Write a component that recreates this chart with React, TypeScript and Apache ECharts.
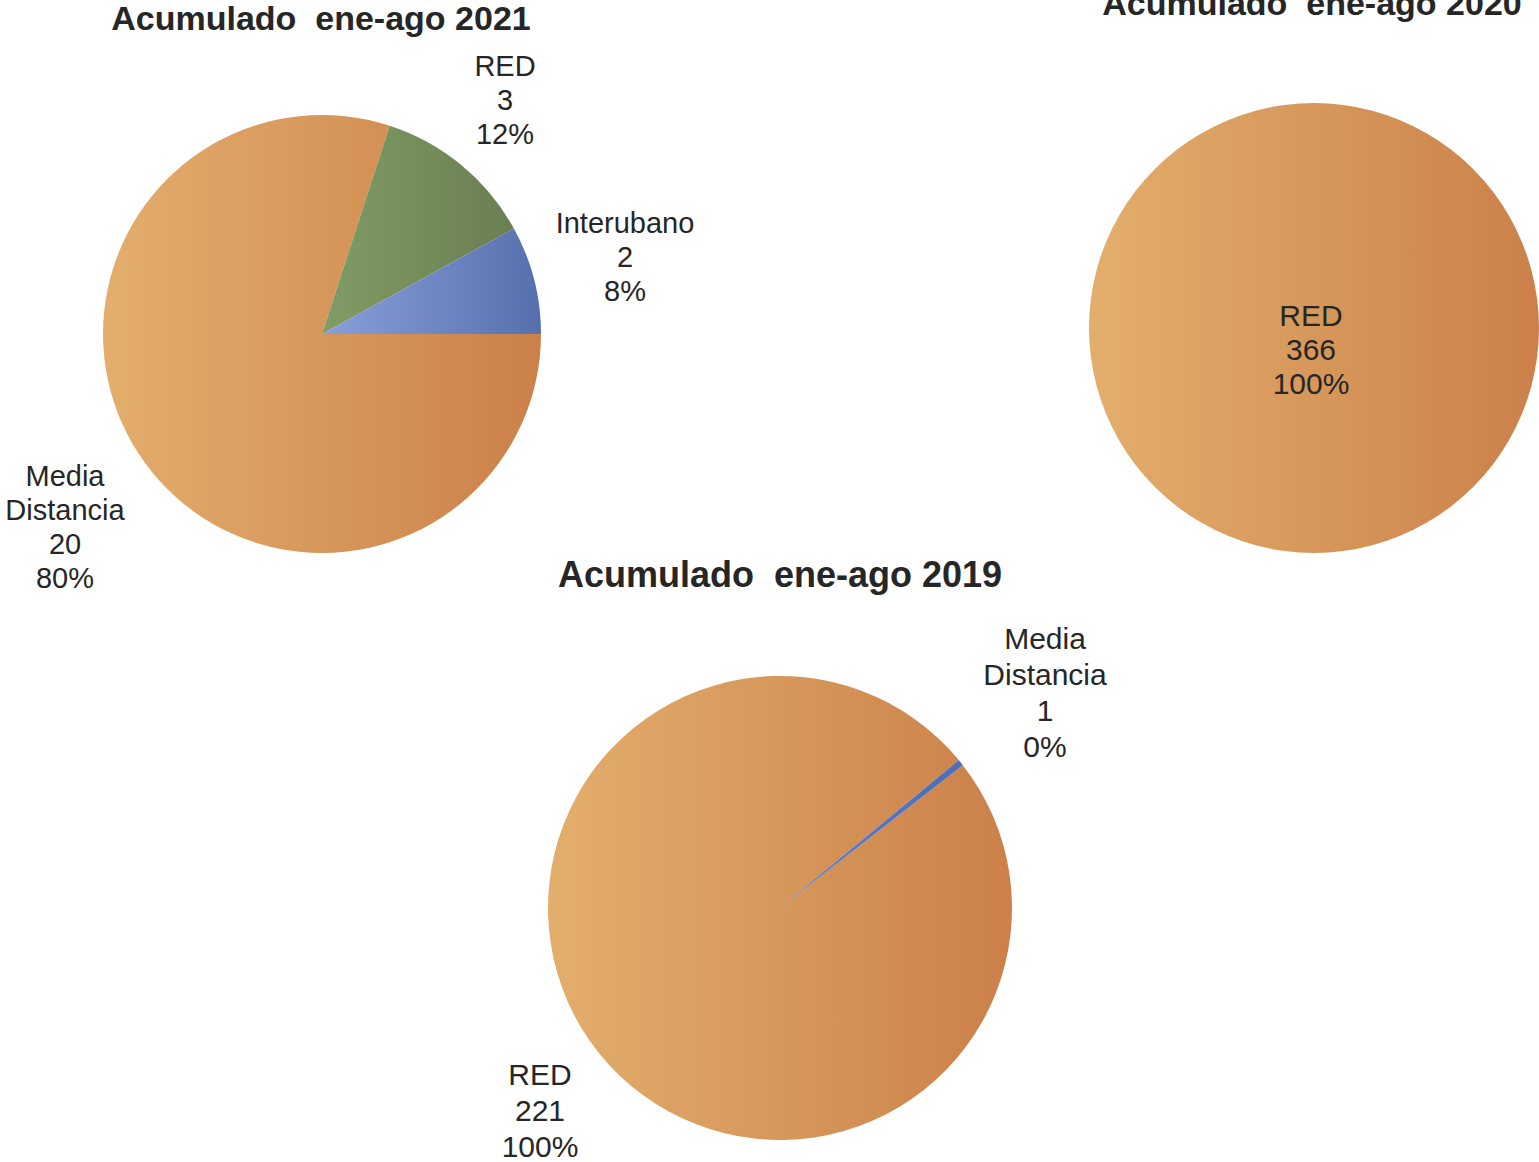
import React, { useEffect, useRef } from "react";
import * as echarts from "echarts";

const titles = ["Acumulado  ene-ago 2021", "Acumulado  ene-ago 2020", "Acumulado  ene-ago 2019"];

const names2021 = ["Media Distancia", "RED", "Interubano"];
const values2021 = [20, 3, 2];

const names2020 = ["RED"];
const values2020 = [366];

const names2019 = ["RED", "Media Distancia"];
const values2019 = [221, 1];

const FONT = "'Liberation Sans', Arial, sans-serif";
const TEXT = "#262626";

const grad = (a: string, b: string) =>
  new echarts.graphic.LinearGradient(0, 0, 1, 0, [
    { offset: 0, color: a },
    { offset: 1, color: b },
  ]);

const COLORS: Record<string, [string, string]> = {
  "Media Distancia": ["#E3AE6C", "#CB8049"],
  RED: ["#809C64", "#6A7E52"],
  Interubano: ["#8A9FDA", "#5670AE"],
};

export default function App() {
  const ref = useRef<HTMLDivElement>(null);
  useEffect(() => {
    if (!ref.current) return;
    const chart = echarts.init(ref.current, undefined, { renderer: "svg" });

    const build = (names: string[], values: number[], colorFor: (n: string) => [string, string]) =>
      names.map((n, i) => {
        const c = colorFor(n);
        return { name: n, value: values[i], itemStyle: { color: grad(c[0], c[1]) } };
      });

    const label = (fontSize: number, lineHeight: number) => ({
      show: true,
      formatter: (p: any) => `${p.name.replace(" ", "\n")}\n${p.value}\n${p.percent}%`,
      fontFamily: FONT,
      fontSize,
      lineHeight,
      color: TEXT,
      align: "center",
      overflow: "none",
      width: 300,
    });

    const pos2021: Record<string, [number, number]> = {
      "Media Distancia": [65, 527],
      RED: [505, 100],
      Interubano: [625, 257],
    };
    const pos2020: Record<string, [number, number]> = { RED: [1311, 349] };
    const pos2019: Record<string, [number, number]> = {
      "Media Distancia": [1045, 692],
      RED: [540, 1110],
    };

    const layoutFor = (pos: Record<string, [number, number]>, names: string[]) => (params: any) => {
      const p = pos[names[params.dataIndex]];
      return { x: p[0], y: p[1], align: "center", verticalAlign: "middle" };
    };

    const common = {
      type: "pie",
      clockwise: true,
      percentPrecision: 0,
      labelLine: { show: false },
      emphasis: { disabled: true },
      itemStyle: { borderWidth: 0 },
    };

    const titleStyle = (fontSize: number) => ({
      fontFamily: FONT,
      fontWeight: "bold",
      fontSize,
      color: TEXT,
    });

    chart.setOption({
      animation: false,
      backgroundColor: "#ffffff",
      title: [
        { text: titles[0], left: 321, top: 1, textStyle: titleStyle(34) },
        { text: titles[1], left: 1312, top: -14, textStyle: titleStyle(34) },
        { text: titles[2], left: 780, top: 556, textStyle: titleStyle(36) },
      ].map((t) => ({
        ...t,
        textAlign: "center",
        padding: 0,
      })),
      series: [
        {
          ...common,
          center: [322, 334],
          radius: 219,
          startAngle: 0,
          label: label(29, 34),
          data: build(names2021, values2021, (n) => COLORS[n]),
          labelLayout: layoutFor(pos2021, names2021),
        },
        {
          ...common,
          center: [1314, 328],
          radius: 225,
          startAngle: 90,
          label: label(30, 34),
          data: build(names2020, values2020, () => COLORS["Media Distancia"]),
          labelLayout: layoutFor(pos2020, names2020),
        },
        {
          ...common,
          center: [780, 908],
          radius: 232,
          startAngle: 38,
          label: label(30, 36),
          data: build(names2019, values2019, (n) =>
            n === "RED" ? COLORS["Media Distancia"] : ["#5B7BC4", "#4F6FB5"]
          ),
          labelLayout: layoutFor(pos2019, names2019),
        },
      ],
    });
    return () => chart.dispose();
  }, []);
  return (
    <div
      ref={ref}
      style={{ position: "absolute", left: 0, top: 0, width: 1539, height: 1162 }}
    />
  );
}
